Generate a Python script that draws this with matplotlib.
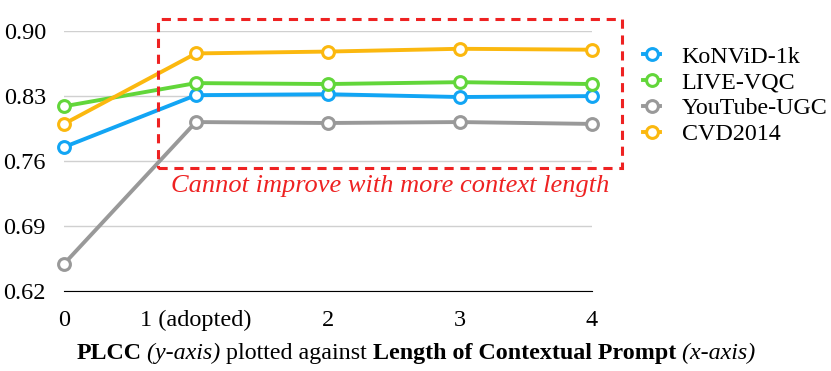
import matplotlib
matplotlib.use("Agg")
import matplotlib.pyplot as plt
from matplotlib.patches import Rectangle

plt.rcParams['font.family'] = ['Liberation Serif', 'DejaVu Serif']

x_labels = ['0', '1 (adopted)', '2', '3', '4']
lengths = [0, 1, 2, 3, 4]
series = ['KoNViD-1k', 'LIVE-VQC', 'YouTube-UGC', 'CVD2014']
konvid = [0.775, 0.831, 0.832, 0.829, 0.830]
livevqc = [0.819, 0.844, 0.843, 0.845, 0.843]
youtube = [0.649, 0.802, 0.801, 0.802, 0.800]
cvd = [0.800, 0.876, 0.878, 0.881, 0.880]
yticks = [0.62, 0.69, 0.76, 0.83, 0.90]

colors = ['#12A5F4', '#62D63A', '#999999', '#FBB80F']

fig = plt.figure(figsize=(8.31, 3.71), dpi=100)
ax = fig.add_axes([0.077, 0.216, 0.635, 0.700])

for vals, name, c in zip([konvid, livevqc, youtube, cvd], series, colors):
    ax.plot(lengths, vals, color=c, lw=2.8, marker='o', markersize=8.5,
            markerfacecolor='white', markeredgecolor=c, markeredgewidth=2.2,
            label=name, clip_on=False, zorder=3)

ax.set_xlim(0, 4)
ax.set_ylim(0.62, 0.90)
ax.set_yticks(yticks)
ax.set_yticklabels([f'{v:.2f}' for v in yticks])
ax.set_xticks(lengths)
ax.set_xticklabels(x_labels)
ax.tick_params(length=0, labelsize=17.5)
ax.tick_params(axis='x', pad=14)
ax.tick_params(axis='y', pad=13)
ax.grid(axis='y', color='#d0d0d0', lw=1)
for s in ['left', 'right', 'top']:
    ax.spines[s].set_visible(False)
ax.spines['bottom'].set_color('black')
ax.set_axisbelow(True)

# red dashed box
box = Rectangle((0.71, 0.7525), 4.23 - 0.71, 0.913 - 0.7525, fill=False,
                edgecolor='#EE2222', lw=2.2, ls=(0, (3, 2.2)), clip_on=False, zorder=4)
ax.add_patch(box)
ax.text(2.47, 0.7445, 'Cannot improve with more context length', color='#EE2222',
        style='italic', fontsize=19, ha='center', va='top')

ax.legend(loc='upper left', bbox_to_anchor=(1.075, 0.99), frameon=False, fontsize=17.3,
          handlelength=0.7, handletextpad=0.9, labelspacing=0.17, borderpad=0)

# composite x-axis caption
parts = [('PLCC', 'bold', 'normal'), (' (y-axis)', 'normal', 'italic'),
         (' plotted against ', 'normal', 'normal'),
         ('Length of Contextual Prompt', 'bold', 'normal'), (' (x-axis)', 'normal', 'italic')]
fig.canvas.draw()
r = fig.canvas.get_renderer()
texts = []
total = 0
for s, w, st in parts:
    t = fig.text(0, 0.033, s, fontsize=17.3, fontweight=w, style=st, va='baseline')
    texts.append(t)
    total += t.get_window_extent(r).width
x0 = (75 + 757) / 2 - total / 2
for t in texts:
    t.set_x(x0 / fig.bbox.width)
    x0 += t.get_window_extent(r).width

fig.savefig('out.png', dpi=100)
